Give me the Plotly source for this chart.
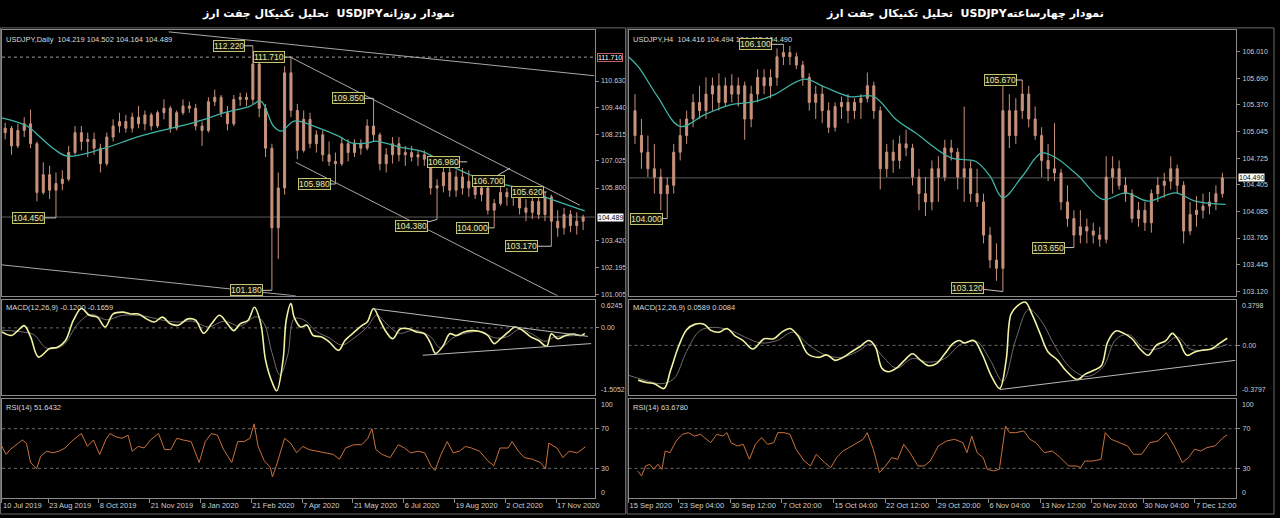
import plotly.graph_objects as go

# ---------------- LEFT: USDJPY Daily (aggregated candles, bar-number x axis) ----------------
L_open = [108.30,108.50,107.70,108.40,108.70,107.80,105.60,106.40,105.70,106.00,
          106.20,107.40,108.30,107.90,108.00,107.60,106.90,108.10,108.60,108.80,
          108.50,109.00,108.70,109.10,108.60,109.20,109.40,108.50,109.20,109.50,
          109.40,108.60,108.40,109.70,109.90,109.20,108.70,109.80,109.90,109.80,
          111.40,109.40,107.60,104.00,105.80,111.00,109.30,107.50,108.90,107.80,
          108.20,107.30,107.00,106.90,107.80,107.40,107.80,107.60,108.60,108.20,
          106.90,107.30,107.80,107.30,107.40,107.20,107.30,107.10,105.80,105.90,
          106.50,105.70,106.30,105.80,106.10,105.50,105.80,104.80,105.10,105.60,
          105.40,105.50,104.90,104.70,105.20,104.60,105.40,104.30,104.00,104.60,
          104.10,104.30]
L_high = [108.75,108.60,108.70,109.00,109.34,107.90,106.96,106.80,106.50,106.60,
          107.70,108.60,108.60,108.30,108.30,107.80,108.30,108.90,109.20,109.10,
          109.20,109.50,109.30,109.20,109.30,109.80,109.50,109.30,109.80,109.70,
          109.60,108.80,109.90,110.24,110.00,109.50,110.00,110.10,110.10,112.22,
          111.60,109.60,107.80,106.50,111.30,111.71,109.60,109.30,109.20,108.40,
          108.40,107.90,107.40,108.10,108.00,108.00,108.00,108.90,109.85,108.30,
          107.60,108.10,108.10,107.70,107.70,107.50,107.50,107.30,106.20,106.80,
          106.98,106.60,106.70,106.60,106.20,106.00,105.90,105.30,105.90,105.80,
          105.70,105.70,105.30,105.50,105.40,105.62,105.50,104.80,104.90,104.80,
          104.70,104.60]
L_low = [108.00,107.30,107.60,108.10,107.60,105.20,105.50,105.30,104.45,105.70,
         106.10,107.30,107.50,107.20,107.30,106.50,106.80,107.90,108.30,108.30,
         108.30,108.50,108.40,108.40,108.50,108.90,108.30,108.40,109.10,109.20,
         108.40,107.70,108.30,109.50,109.00,108.40,108.60,109.50,109.50,109.60,
         109.00,107.20,101.18,102.60,105.50,109.00,107.10,107.40,107.60,107.40,
         107.00,106.80,105.98,106.80,107.00,107.20,107.30,107.50,107.90,106.60,
         106.50,106.90,107.00,106.80,107.00,106.80,106.80,105.50,104.38,105.60,
         105.40,105.40,105.50,105.40,105.30,105.20,104.60,104.00,105.00,105.00,
         105.00,104.60,104.30,104.40,104.40,104.30,103.17,103.60,103.70,103.80,
         103.70,103.90]
L_close = [108.50,107.70,108.40,108.70,107.80,105.60,106.40,105.70,106.00,106.20,
           107.40,108.30,107.90,108.00,107.60,106.90,108.10,108.60,108.80,108.50,
           109.00,108.70,109.10,108.60,109.20,109.40,108.50,109.20,109.50,109.40,
           108.60,108.40,109.70,109.90,109.20,108.70,109.80,109.90,109.80,111.40,
           109.40,107.60,104.00,105.80,111.00,109.30,107.50,108.90,107.80,108.20,
           107.30,107.00,106.90,107.80,107.40,107.80,107.60,108.60,108.20,106.90,
           107.30,107.80,107.30,107.40,107.20,107.30,107.10,105.80,105.90,106.50,
           105.70,106.30,105.80,106.10,105.50,105.80,104.80,105.10,105.60,105.40,
           105.50,104.90,104.70,105.20,104.60,105.40,104.30,104.00,104.60,104.10,
           104.30,104.489]
L_ma_x = [0, 16, 24, 33, 41, 62, 87, 112, 127, 140, 156, 163, 171, 176, 184, 198,
          212, 220, 231, 235, 252, 264, 283, 294, 304, 325, 346, 367]
L_ma_y = [108.97, 108.59, 108.10, 107.55, 107.24, 107.54, 108.14, 108.59, 108.89, 109.20,
          109.49, 109.72, 108.59, 108.37, 108.82, 108.55, 108.14, 107.84, 107.84, 107.92,
          107.62, 107.47, 106.79, 106.42, 106.12, 105.82, 105.29, 104.77]
L_macd_x = [0,6,10,14,18,23,30,35,40,45,50,55,60,65,70,76,81,86,91,96,101,106,111,117,122,
            127,132,137,142,146,150,155,159,163,166,170,173,177,179,182,184,188,192,196,201,
            206,212,216,222,227,230,234,238,242,246,251,256,261,266,270,273,278,282,286,291,
            297,302,306,310,314,319,323,328,333,338,343,346,350,355,360,365,367]
L_macd_y = [-0.09,-0.17,-0.06,0.05,-0.20,-0.65,-0.46,-0.43,-0.28,0.17,0.43,0.28,0.24,0.02,0.31,
            0.35,0.31,0.31,0.20,0.13,0.24,0.09,0.06,0.20,0.17,-0.12,0.09,0.28,0.09,-0.06,0.09,
            0.17,0.46,0.09,-0.72,-1.20,-1.40,-0.72,0.17,0.54,0.24,0.02,0.06,-0.17,-0.20,-0.31,
            -0.50,-0.28,-0.09,0.06,0.13,0.43,0.17,-0.09,-0.24,-0.02,-0.02,-0.09,-0.13,-0.35,
            -0.57,-0.39,-0.13,-0.17,-0.09,-0.06,-0.09,-0.17,-0.35,-0.24,-0.09,0.02,-0.06,-0.20,
            -0.28,-0.41,-0.13,-0.24,-0.17,-0.14,-0.17,-0.12]
L_sig_x = [0,10,20,28,38,48,56,66,76,90,100,110,120,130,140,150,160,165,170,175,180,184,190,
           198,206,214,222,230,236,242,250,260,270,276,284,292,302,310,318,326,334,342,348,356,367]
L_sig_y = [-0.05,-0.08,-0.15,-0.45,-0.40,0.10,0.30,0.18,0.28,0.26,0.18,0.13,0.15,0.02,0.15,0.04,
           0.25,0.10,-0.55,-1.05,-0.60,0.20,0.18,-0.08,-0.22,-0.38,-0.22,0.02,0.28,0.10,-0.12,
           -0.05,-0.20,-0.45,-0.22,-0.12,-0.08,-0.22,-0.20,-0.03,-0.14,-0.30,-0.20,-0.18,-0.166]
L_rsi_x = [0,2.6,5.1,9,12.8,15.4,18,21.8,24.4,28.2,32,35.9,39.7,44.8,50,53.8,57.6,61.5,65.3,67.9,
           71.7,75.6,79.4,82,85.8,89.6,93.5,98.6,102.4,106.3,110.1,114,119.1,124.2,128,131.9,
           135.7,139.6,144.7,148.5,152.4,156.2,158.8,161.3,165.2,169,170.3,172.8,178,181.8,185.6,
           189.5,193.3,198.4,203.6,208.7,212.5,216.4,221.5,226.6,230.4,233,235.5,239.4,244.5,
           249.6,253.5,257.3,262.4,266.3,270.1,272.7,276.5,280.4,284.2,288.1,291.9,295.7,300.8,
           306,309.8,313.6,318.8,321.3,325.2,329,334.1,339.2,342.3,344.4,349.5,353.3,357.2,
           362.3,367.4]
L_rsi_y = [52.1,44,48.9,53.8,58.6,55.4,35.9,29.4,42.4,47.3,45.6,47.3,50.5,58.6,65.1,52.1,58.6,44,
           58.6,65.1,61.9,60.3,63.5,47.3,52.1,50.5,58.6,65.1,48.9,48.9,60.3,58.6,57,35.9,57,65.1,
           63.5,48.9,35.9,57,57,60.3,74.9,52.1,37.5,31,21.3,32.6,60.3,55.4,45.6,52.1,48.9,47.3,
           45.6,44,39.1,50.5,53.8,53.8,60.3,70,48.9,44,40.8,53.8,50.5,45.6,47.3,45.6,32.6,27.8,
           44,57,45.6,47.3,52.1,50.5,47.3,37.5,32.6,50.5,50.5,57,47.3,40.8,39.1,35.9,29.4,55.4,
           50.5,40.8,47.3,45.6,51.64]
L_ticks = [0, 29, 61, 93, 125, 157, 189, 221, 253, 285, 317, 349]
L_ticktext = ["10 Jul 2019", "23 Aug 2019", "8 Oct 2019", "21 Nov 2019", "8 Jan 2020",
              "21 Feb 2020", "7 Apr 2020", "21 May 2020", "6 Jul 2020", "19 Aug 2020",
              "2 Oct 2020", "17 Nov 2020"]
L_price_ticks = [110.630, 109.440, 108.215, 107.025, 105.800, 103.420, 102.195, 101.005]
L_macd_scale = [0.6245, 0.0, -1.5052]
L_rsi_scale = [100, 70, 30, 0]
# trend lines: (x0, y0, x1, y1) in bar number / price
L_trend = [(105, 112.85, 373, 110.87), (181, 111.73, 364, 105.02),
           (185, 106.96, 350, 100.93), (0, 102.33, 185, 100.93)]
L_macd_trend = [(234, 0.425, 369, -0.19), (265, -0.61, 371, -0.35)]
L_labels_x = [158, 182, 234, 210, 34, 170, 274, 293, 320, 310, 343, 346]
L_labels_y = [112.22, 111.71, 109.85, 105.98, 104.45, 101.18, 104.38, 106.98, 106.70, 104.00, 105.62, 103.17]
L_labels_t = ["112.220", "111.710", "109.850", "105.980", "104.450", "101.180", "104.380",
              "106.980", "106.700", "104.000", "105.620", "103.170"]
L_labels_off = [(-24, 0), (-22, 0), (-25, 0), (-21, 0), (-27, 0), (-25, 0), (-26, 7),
                (-24, 0), (-22, 13), (-22, 0), (-19, 0), (-30, 0)]

# ---------------- RIGHT: USDJPY H4 ----------------
R_open = [105.30,105.00,104.80,104.60,104.50,104.30,104.40,104.80,105.00,105.20,
          105.40,105.30,105.50,105.60,105.40,105.60,105.50,105.60,105.20,105.50,
          105.70,105.60,105.70,105.95,106.00,105.95,105.85,105.70,105.40,105.50,
          105.30,105.10,105.35,105.40,105.30,105.40,105.45,105.60,105.30,104.60,
          104.80,104.70,104.90,104.85,104.50,104.30,104.20,104.60,104.50,104.85,
          104.80,104.50,104.60,104.30,104.20,103.80,103.50,103.40,105.30,105.00,
          105.30,105.50,105.20,105.00,104.70,104.60,104.55,104.20,104.00,103.80,
          103.90,103.85,103.80,103.75,104.50,104.60,104.40,104.30,104.00,104.10,
          103.95,104.30,104.40,104.45,104.60,104.40,103.85,104.05,104.10,104.15,
          104.20,104.30]
R_high = [105.50,105.20,105.00,104.90,104.60,104.50,104.90,105.20,105.30,105.50,
          105.60,105.70,105.70,105.75,105.70,105.74,105.70,105.65,105.60,105.80,
          105.80,105.80,106.05,106.10,106.08,106.00,105.90,105.75,105.60,105.60,
          105.40,105.40,105.47,105.50,105.45,105.50,105.76,105.65,105.35,104.90,
          104.95,105.00,105.07,104.90,104.60,104.50,104.70,104.75,104.95,104.95,
          104.85,105.35,104.70,104.60,104.30,103.90,103.70,105.60,105.50,105.45,
          105.67,105.60,105.35,105.10,104.90,105.15,104.60,104.40,104.10,104.10,
          104.00,103.95,103.90,104.75,104.75,104.70,104.50,104.35,104.20,104.20,
          104.35,104.50,104.55,104.75,104.65,104.45,104.20,104.27,104.30,104.32,
          104.40,104.55]
R_low = [104.90,104.60,104.50,104.30,104.10,104.00,104.30,104.70,104.90,105.10,
         105.20,105.20,105.30,105.30,105.35,105.40,105.35,104.95,105.10,105.40,
         105.50,105.45,105.60,105.85,105.85,105.80,105.60,105.30,105.20,105.15,
         105.03,105.05,105.20,105.15,105.20,105.20,105.40,105.20,104.35,104.50,
         104.55,104.60,104.75,104.40,104.10,104.03,104.10,104.20,104.45,104.70,
         104.35,104.20,104.20,104.14,103.70,103.40,103.25,103.12,104.85,104.90,
         105.20,105.10,104.95,104.50,104.45,104.45,104.10,103.90,103.65,103.70,
         103.70,103.70,103.66,103.70,104.30,104.35,104.20,103.95,103.90,103.85,
         103.83,104.20,104.25,104.35,104.30,103.70,103.80,103.90,104.00,104.05,
         104.10,104.25]
R_close = [105.00,104.80,104.60,104.50,104.30,104.40,104.80,105.00,105.20,105.40,
           105.30,105.50,105.60,105.40,105.60,105.50,105.60,105.20,105.50,105.70,
           105.60,105.70,105.95,106.00,105.95,105.85,105.70,105.40,105.50,105.30,
           105.10,105.35,105.40,105.30,105.40,105.45,105.60,105.30,104.60,104.80,
           104.70,104.90,104.85,104.50,104.30,104.20,104.60,104.50,104.85,104.80,
           104.50,104.60,104.30,104.20,103.80,103.50,103.40,105.30,105.00,105.30,
           105.50,105.20,105.00,104.70,104.60,104.55,104.20,104.00,103.80,103.90,
           103.85,103.80,103.75,104.50,104.60,104.40,104.30,104.00,104.10,103.95,
           104.30,104.40,104.45,104.60,104.40,103.85,104.05,104.10,104.15,104.20,
           104.30,104.490]
R_ma_x = [0, 6, 18, 32, 47, 63, 78, 90, 109, 121, 137, 152, 166, 178, 200, 215, 224, 232,
          244, 256, 265, 279, 294, 308, 322, 339, 351, 370]
R_ma_y = [105.95, 105.83, 105.47, 105.11, 105.25, 105.37, 105.41, 105.49, 105.68, 105.59,
          105.47, 105.47, 105.19, 105.03, 104.73, 104.69, 104.51, 104.25, 104.51, 104.79,
          104.73, 104.51, 104.23, 104.31, 104.21, 104.31, 104.21, 104.17]
R_macd_x = [6,11,16,22,26,31,36,41,47,51,56,61,66,71,77,84,90,95,100,105,111,118,123,128,133,
            138,143,149,153,157,161,166,171,176,181,186,191,196,201,205,208,214,219,225,230,
            234,237,241,246,250,255,260,266,271,278,283,288,293,297,302,307,312,317,322,327,
            333,337,341,346,351,356,361,366,371]
R_macd_y = [-0.29,-0.31,-0.32,-0.36,-0.21,-0.01,0.13,0.175,0.175,0.125,0.11,0.14,0.08,0.04,
            -0.03,0.055,0.055,0.11,0.14,0.08,-0.07,-0.10,-0.08,-0.125,-0.10,-0.055,-0.014,
            0.04,-0.014,-0.19,-0.22,-0.19,-0.125,-0.07,-0.125,-0.17,-0.15,-0.07,0.014,0.04,
            0.02,0.04,-0.07,-0.26,-0.36,-0.125,0.26,0.33,0.36,0.26,0.10,-0.055,-0.125,-0.21,
            -0.285,-0.24,-0.21,-0.17,0.03,0.12,0.10,0.055,-0.03,-0.083,0.0,0.04,0.10,0.04,
            -0.083,-0.055,-0.04,-0.03,0.014,0.059]
R_sig_x = [0,10,20,28,36,44,52,62,72,82,92,102,112,122,132,142,150,158,166,176,186,196,206,
           216,224,232,240,248,256,264,274,284,294,302,310,320,330,340,348,358,371]
R_sig_y = [-0.25,-0.29,-0.32,-0.28,-0.05,0.12,0.15,0.13,0.07,0.02,0.04,0.11,0.0,-0.08,-0.10,
           -0.05,0.01,-0.10,-0.19,-0.11,-0.14,-0.11,0.01,0.03,-0.12,-0.30,0.05,0.30,0.20,0.0,
           -0.19,-0.26,-0.18,0.05,0.09,-0.03,-0.02,0.07,-0.03,-0.04,0.008]
R_rsi_x = [5.6,8.1,10.6,13.1,15.6,18.2,20.7,22.7,25.7,29.5,33.3,37.1,40.8,44.6,47.1,50.9,54.7,
           58.5,61,63.5,67.3,71.1,74.9,78.6,82.4,86.2,90,92.5,96.3,100.1,103.8,108.9,112.7,
           116.4,121.5,125.3,129,132.8,136.6,141.6,145.4,147.9,151.7,155.5,159.3,163.1,166.8,
           170.6,174.4,179.4,183.2,187,192,197.1,202.1,207.2,209.7,212.7,216,219.8,222.3,226.1,
           229.8,233.6,236.1,239.9,245,248.7,252.5,257.6,262.6,267.6,272.7,277.7,280.2,282.8,
           287.8,292.8,295.4,299.1,304.2,309.2,313,318,323.1,328.1,333.2,338.2,343.2,347,350.8,
           354.6,358.4,363.4,368.4,371]
R_rsi_y = [27.4,22.3,32.4,34.1,29,34.1,29,47.5,45.8,57.6,64.3,66,62.6,64.3,61,55.9,64.3,62.6,
           66,55.9,52.6,54.2,39.1,54.2,61,54.2,55.9,66,66,64.3,49.2,37.4,32.4,44.2,35.8,30.7,
           40.8,47.5,50.9,55.9,59.3,66,49.2,25.7,32.4,40.8,39.1,54.2,45.8,32.4,32.4,37.4,52.6,
           57.6,59.3,55.9,45.8,62.6,45.8,40.8,29,27.4,29,72.7,66,66,67.7,59.3,55.9,45.8,47.5,
           40.8,32.4,32.4,30.7,37.4,37.4,39.1,66,59.3,55.9,52.6,44.2,44.2,55.9,57.6,66,52.6,
           35.8,40.8,49.2,47.5,50.9,52.6,61,63.68]
R_ticks = [0, 31, 63, 95, 127, 159, 191, 223, 255, 287, 319, 351]
R_ticktext = ["15 Sep 2020", "23 Sep 04:00", "30 Sep 12:00", "7 Oct 20:00", "15 Oct 04:00",
              "22 Oct 12:00", "29 Oct 20:00", "6 Nov 04:00", "13 Nov 12:00", "20 Nov 20:00",
              "30 Nov 04:00", "7 Dec 12:00"]
R_price_ticks = [106.010, 105.690, 105.370, 105.045, 104.725, 104.405, 104.085, 103.765,
                 103.445, 103.120]
R_macd_scale = [0.3798, 0.0, -0.3797]
R_rsi_scale = [100, 70, 30, 0]
R_macd_trend = [(230, -0.369, 376, -0.125)]
R_labels_x = [24, 96, 244, 276, 232]
R_labels_y = [104.00, 106.10, 105.67, 103.65, 103.12]
R_labels_t = ["104.000", "106.100", "105.670", "103.650", "103.120"]
R_labels_off = [(-21, 0), (-28, 0), (-22, 0), (-25, 0), (-35, -4)]

# ---------------- styling ----------------
W, H = 1280, 518
CANDLE = "#c9927c"
MA_C = "#3fb3a6"
MACD_C = "#f2f2a2"
SIG_C = "#6e6e6e"
RSI_C = "#c8713c"
FRAME = "#8a8a8a"
TXT = "#cfcfcf"
FONT = "Liberation Sans"


def py(top, bottom):
    return [1 - bottom / H, 1 - top / H]


dom_price = py(30, 297)
dom_macd = py(301, 397)
dom_rsi = py(400.5, 500)
dom_xl = [2 / W, 597 / W]
dom_xr = [631 / W, 1241 / W]
rng_xl = [0, 595 / 1.594]
rng_xr = [0, 610 / 1.62]

fig = go.Figure()

L_x = [2 + 4 * i for i in range(len(L_close))]
R_x = [4 + 4 * i for i in range(len(R_close))]

for xs, o, h, l, c, xa, ya in [(L_x, L_open, L_high, L_low, L_close, "x", "y"),
                               (R_x, R_open, R_high, R_low, R_close, "x4", "y4")]:
    fig.add_trace(go.Candlestick(
        x=xs, open=o, high=h, low=l, close=c, xaxis=xa, yaxis=ya,
        increasing=dict(line=dict(color=CANDLE, width=1), fillcolor=CANDLE),
        decreasing=dict(line=dict(color=CANDLE, width=1), fillcolor=CANDLE),
        whiskerwidth=0, showlegend=False, hoverinfo="skip"))

fig.add_trace(go.Scatter(x=L_ma_x, y=L_ma_y, mode="lines", line=dict(color=MA_C, width=1.3, shape="spline"),
                         xaxis="x", yaxis="y", showlegend=False, hoverinfo="skip"))
fig.add_trace(go.Scatter(x=R_ma_x, y=R_ma_y, mode="lines", line=dict(color=MA_C, width=1.3, shape="spline"),
                         xaxis="x4", yaxis="y4", showlegend=False, hoverinfo="skip"))

for (x0, y0, x1, y1) in L_trend:
    fig.add_trace(go.Scatter(x=[x0, x1], y=[y0, y1], mode="lines", line=dict(color="#a8a8a8", width=1),
                             xaxis="x", yaxis="y", showlegend=False, hoverinfo="skip"))

for xs, ys, sx, sy, xa, ya in [(L_macd_x, L_macd_y, L_sig_x, L_sig_y, "x2", "y2"),
                               (R_macd_x, R_macd_y, R_sig_x, R_sig_y, "x5", "y5")]:
    fig.add_trace(go.Scatter(x=sx, y=sy, mode="lines", line=dict(color=SIG_C, width=1, shape="spline"),
                             xaxis=xa, yaxis=ya, showlegend=False, hoverinfo="skip"))
    fig.add_trace(go.Scatter(x=xs, y=ys, mode="lines", line=dict(color=MACD_C, width=1.6, shape="spline"),
                             xaxis=xa, yaxis=ya, showlegend=False, hoverinfo="skip"))
for trends, xa, ya in [(L_macd_trend, "x2", "y2"), (R_macd_trend, "x5", "y5")]:
    for (x0, y0, x1, y1) in trends:
        fig.add_trace(go.Scatter(x=[x0, x1], y=[y0, y1], mode="lines", line=dict(color="#b8b8b8", width=1),
                                 xaxis=xa, yaxis=ya, showlegend=False, hoverinfo="skip"))

fig.add_trace(go.Scatter(x=L_rsi_x, y=L_rsi_y, mode="lines", line=dict(color=RSI_C, width=1),
                         xaxis="x3", yaxis="y3", showlegend=False, hoverinfo="skip"))
fig.add_trace(go.Scatter(x=R_rsi_x, y=R_rsi_y, mode="lines", line=dict(color=RSI_C, width=1),
                         xaxis="x6", yaxis="y6", showlegend=False, hoverinfo="skip"))

tickfont = dict(family=FONT, size=7, color=TXT)

def xax(dom, rng, anchor, tickvals=None, ticktext=None):
    d = dict(domain=dom, range=rng, anchor=anchor, showgrid=False, zeroline=False,
             showline=True, mirror=True, linecolor=FRAME, linewidth=1, fixedrange=True,
             rangeslider=dict(visible=False))
    if tickvals is None:
        d.update(showticklabels=False, ticks="")
    else:
        d.update(tickvals=tickvals, ticktext=ticktext, ticks="outside", ticklen=4,
                 tickcolor=FRAME, tickfont=dict(family=FONT, size=7.5, color=TXT),
                 ticklabelposition="outside right", tickangle=0)
    return d

def yax(dom, rng, anchor, tickvals, ticktext):
    return dict(domain=dom, range=rng, anchor=anchor, side="right", showgrid=False,
                zeroline=False, showline=True, mirror=True, linecolor=FRAME, linewidth=1,
                tickvals=tickvals, ticktext=ticktext, ticks="outside", ticklen=3,
                tickcolor=FRAME, tickfont=tickfont, fixedrange=True, ticklabelstandoff=1)

def fmt(v):
    return f"{v:.2f}" if v == 0 else f"{v:.4f}"

fig.update_layout(
    width=W, height=H, margin=dict(l=0, r=0, t=0, b=0),
    paper_bgcolor="#000000", plot_bgcolor="#000000", boxgap=0.55,
    xaxis=xax(dom_xl, rng_xl, "y"),
    xaxis2=xax(dom_xl, rng_xl, "y2"),
    xaxis3=xax(dom_xl, rng_xl, "y3", L_ticks, L_ticktext),
    xaxis4=xax(dom_xr, rng_xr, "y4"),
    xaxis5=xax(dom_xr, rng_xr, "y5"),
    xaxis6=xax(dom_xr, rng_xr, "y6", R_ticks, R_ticktext),
    yaxis=yax(dom_price, [100.93, 112.94], "x", L_price_ticks, [f"{v:.3f}" for v in L_price_ticks]),
    yaxis2=yax(dom_macd, [L_macd_scale[2], L_macd_scale[0]], "x2", [0.0], ["0.00"]),
    yaxis3=yax(dom_rsi, [0, 100], "x3", L_rsi_scale[1:3], [str(v) for v in L_rsi_scale[1:3]]),
    yaxis4=yax(dom_price, [103.068, 106.274], "x4", R_price_ticks, [f"{v:.3f}" for v in R_price_ticks]),
    yaxis5=yax(dom_macd, [-0.418, R_macd_scale[0]], "x5", [0.0], ["0.00"]),
    yaxis6=yax(dom_rsi, [0, 100], "x6", R_rsi_scale[1:3], [str(v) for v in R_rsi_scale[1:3]]),
    showlegend=False,
)

shapes = []
shapes.append(dict(type="line", xref="x domain", yref="y", x0=0, x1=1, y0=111.71, y1=111.71,
                   line=dict(color="#9a9a9a", width=1, dash="dot"), layer="below"))
shapes.append(dict(type="line", xref="x domain", yref="y", x0=0, x1=1, y0=L_close[-1], y1=L_close[-1],
                   line=dict(color="#5a5a5a", width=1), layer="below"))
shapes.append(dict(type="line", xref="x4 domain", yref="y4", x0=0, x1=1, y0=R_close[-1], y1=R_close[-1],
                   line=dict(color="#5a5a5a", width=1), layer="below"))
for xr, yr in [("x2 domain", "y2"), ("x5 domain", "y5")]:
    shapes.append(dict(type="line", xref=xr, yref=yr, x0=0, x1=1, y0=0, y1=0,
                       line=dict(color="#6a6a6a", width=1, dash="dot"), layer="below"))
for xr, yr in [("x3 domain", "y3"), ("x6 domain", "y6")]:
    for lv in (70, 30):
        shapes.append(dict(type="line", xref=xr, yref=yr, x0=0, x1=1, y0=lv, y1=lv,
                           line=dict(color="#6a6a6a", width=1, dash="dot"), layer="below"))
shapes.append(dict(type="rect", xref="paper", yref="paper", x0=0.5 / W, x1=628 / W, y0=2 / H, y1=1 - 28 / H,
                   line=dict(color="#6a6a6a", width=1)))
shapes.append(dict(type="rect", xref="paper", yref="paper", x0=629.5 / W, x1=1279 / W, y0=2 / H, y1=1 - 28 / H,
                   line=dict(color="#6a6a6a", width=1)))
fig.update_layout(shapes=shapes)

ann = []
title_font = dict(family="DejaVu Sans", size=11, color="#ffffff")
ann.append(dict(text="<b>تحلیل تکنیکال جفت ارز  USDJPYنمودار روزانه</b>", x=330 / W, y=1 - 14 / H,
                xref="paper", yref="paper", showarrow=False, font=title_font, xanchor="center", yanchor="middle"))
ann.append(dict(text="<b>تحلیل تکنیکال جفت ارز  USDJPYنمودار چهارساعته</b>", x=969 / W, y=1 - 14 / H,
                xref="paper", yref="paper", showarrow=False, font=title_font, xanchor="center", yanchor="middle"))

hdr_font = dict(family=FONT, size=7.5, color="#d8d8d8")
headers = [("USDJPY,Daily  104.219 104.502 104.164 104.489", 4, 40),
           ("MACD(12,26,9) -0.1200 -0.1659", 4, 309),
           ("RSI(14) 51.6432", 4, 409),
           ("USDJPY,H4  104.416 104.494 104.415 104.490", 633, 40),
           ("MACD(12,26,9) 0.0589 0.0084", 633, 309),
           ("RSI(14) 63.6780", 633, 409)]
for t, px, pyy in headers:
    ann.append(dict(text=t, x=px / W, y=1 - pyy / H, xref="paper", yref="paper", showarrow=False,
                    font=hdr_font, xanchor="left", yanchor="middle"))

scale_font = dict(family=FONT, size=7, color=TXT)
for xpx, yr, top, bot, ttxt, btxt in [(601, "y2", L_macd_scale[0], L_macd_scale[2], fmt(L_macd_scale[0]), fmt(L_macd_scale[2])),
                                       (601, "y3", L_rsi_scale[0], L_rsi_scale[3], str(L_rsi_scale[0]), str(L_rsi_scale[3])),
                                       (1245, "y5", R_macd_scale[0], -0.418, fmt(R_macd_scale[0]), fmt(R_macd_scale[2])),
                                       (1245, "y6", R_rsi_scale[0], R_rsi_scale[3], str(R_rsi_scale[0]), str(R_rsi_scale[3]))]:
    ann.append(dict(text=ttxt, x=xpx / W, y=top, xref="paper", yref=yr, showarrow=False,
                    xanchor="left", yanchor="top", font=scale_font))
    ann.append(dict(text=btxt, x=xpx / W, y=bot, xref="paper", yref=yr, showarrow=False,
                    xanchor="left", yanchor="bottom", font=scale_font))

lab_font = dict(family=FONT, size=8.5, color="#e6e6b4")
for xs, ys, ts, offs, xr, yr in [(L_labels_x, L_labels_y, L_labels_t, L_labels_off, "x", "y"),
                                 (R_labels_x, R_labels_y, R_labels_t, R_labels_off, "x4", "y4")]:
    for x, y, t, (ax, ay) in zip(xs, ys, ts, offs):
        ann.append(dict(text=t, x=x, y=y, xref=xr, yref=yr, showarrow=True, arrowhead=0,
                        arrowwidth=1, arrowcolor="#c8c8c8", ax=ax, ay=ay, standoff=0,
                        font=lab_font, bgcolor="#101004", bordercolor="#c4c470",
                        borderwidth=1, borderpad=0))

ann.append(dict(text="111.710", x=599 / W, y=111.71, xref="paper", yref="y", showarrow=False,
                xanchor="left", font=dict(family=FONT, size=7, color="#ffffff"),
                bgcolor="#000000", bordercolor="#c06060", borderwidth=1, borderpad=0))
ann.append(dict(text=f"{L_close[-1]:.3f}", x=599 / W, y=L_close[-1], xref="paper", yref="y", showarrow=False,
                xanchor="left", font=dict(family=FONT, size=7, color="#000000"),
                bgcolor="#ffffff", borderpad=0))
ann.append(dict(text=f"{R_close[-1]:.3f}", x=1243 / W, y=R_close[-1], xref="paper", yref="y4", showarrow=False,
                xanchor="left", font=dict(family=FONT, size=7, color="#000000"),
                bgcolor="#ffffff", borderpad=0))
fig.update_layout(annotations=ann)

fig.write_html("out.html", config={"displayModeBar": False},
               post_script="document.body.style.margin='0';document.body.style.overflow='hidden';")
